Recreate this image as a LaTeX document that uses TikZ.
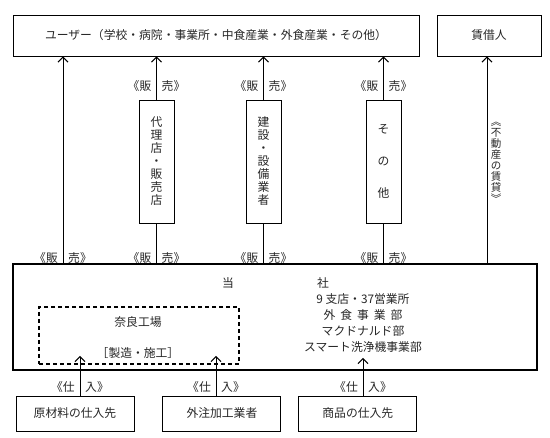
\documentclass[tikz,border=0pt]{standalone}
\usepackage{fontspec}
\usepackage{graphicx}
\setmainfont{Noto Sans CJK JP}
\usetikzlibrary{positioning, arrows.meta}

\begin{document}
\begin{tikzpicture}[x=1pt, y=-1pt, >={Straight Barb[length=5pt,width=10pt]},
    every node/.style={font=\fontsize{11.8}{13}\selectfont, text=black!85},
    box/.style={draw=black, line width=0.9pt, inner sep=0pt},
    tatebox/.style={box, minimum width=35pt, minimum height=123pt, align=center},
    shiire/.style={box, minimum width=118pt, minimum height=35pt},
    flow/.style={->, line width=1pt},
    link/.style={line width=1pt}]

    \useasboundingbox (0,0) rectangle (550,438);

    % top row
    \node[box, minimum width=406pt, minimum height=41pt] (user) at (216,35.5)
        {ユーザー（学校・病院・事業所・中食産業・外食産業・その他）};
    \node[box, minimum width=104pt, minimum height=41pt] (lessee) at (489,35.5) {賃借人};

    % middle boxes
    \node[tatebox] (dairi) at (156.5,161.5) {代\\理\\店\\・\\販\\売\\店};
    \node[tatebox] (kensetsu) at (263.5,161.5) {建\\設\\・\\設\\備\\業\\者};
    \node[tatebox] (sonota) at (383.5,161.5) {そ\\[19pt]の\\[19pt]他};

    % main company box
    \node[draw=black, line width=2.6pt, minimum width=524pt, minimum height=106pt] (tousha) at (275,317) {};
    \node[draw=black, dashed, line width=1.1pt, dash pattern=on 4pt off 3pt,
          minimum width=200pt, minimum height=57pt] (nara) at (139,335.5) {};
    \node (naraname) at (138,322) {奈良工場};
    \node (seizou) at (138,353) {［製造・施工］};
    \node (tou) at (228,283) {当};
    \node (sha) at (323,283) {社};
    \node[align=center, font=\fontsize{11.8}{16}\selectfont] (eigyo) at (363,323)
        {9 支店・37営業所\\外\hspace{5pt}食\hspace{5pt}事\hspace{5pt}業\hspace{5pt}部\\マクドナルド部\\スマート洗浄機事業部};

    % suppliers
    \node[shiire] (genzai) at (75,413.5) {原材料の仕入先};
    \node[shiire, right=28pt of genzai] (gaichu) {外注加工業者};
    \node[shiire, right=17pt of gaichu] (shohin) {商品の仕入先};

    \coordinate (in1) at (80,356);
    \coordinate (in2) at (216,356);
    \coordinate (in3) at (363,358);
    \coordinate (direct) at (63,0);
    \coordinate (rent) at (487,0);

    % sales flows
    \draw[flow] (direct |- tousha.north) -- (direct |- user.south);
    \draw[link] (dairi.south) -- (dairi.south |- tousha.north);
    \draw[flow] (dairi.north) -- (dairi.north |- user.south);
    \draw[link] (kensetsu.south) -- (kensetsu.south |- tousha.north);
    \draw[flow] (kensetsu.north) -- (kensetsu.north |- user.south);
    \draw[link] (sonota.south) -- (sonota.south |- tousha.north);
    \draw[flow] (sonota.north) -- (sonota.north |- user.south);
    \draw[flow] (rent |- tousha.north) -- (rent |- lessee.south);

    \foreach \x/\y/\n in {63/258/a, 156.5/86/b, 156.5/258/c, 263.5/86/d,
                          263.5/258/e, 383.5/86/f, 383.5/258/g} {
        \node[anchor=east, inner sep=0pt] (hanL\n) at (\x-5,\y) {《販};
        \node[anchor=west, inner sep=0pt] (hanR\n) at (\x+5,\y) {売》};
    }

    \node[align=center, font=\fontsize{10.5}{11}\selectfont] (chintai) at (496,160)
        {\rotatebox[origin=c]{-90}{《}\\不\\動\\産\\の\\賃\\貸\\\rotatebox[origin=c]{-90}{》}};

    % purchase flows
    \draw[flow] (genzai.north -| in1) -- (in1);
    \draw[flow] (gaichu.north -| in2) -- (in2);
    \draw[flow] (shohin.north -| in3) -- (in3);

    \foreach \c/\n in {in1/a, in2/b, in3/c} {
        \node[anchor=east, inner sep=0pt] (shiL\n) at ([xshift=-5pt]\c |- 0,387) {《仕};
        \node[anchor=west, inner sep=0pt] (shiR\n) at ([xshift=5pt]\c |- 0,387) {入》};
    }
\end{tikzpicture}
\end{document}
